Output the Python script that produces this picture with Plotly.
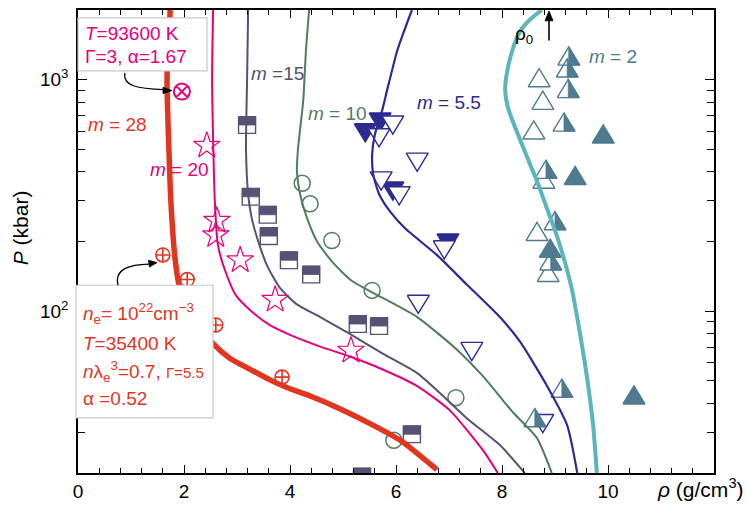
import math
import plotly.graph_objects as go

# ---------------- isentropes: density (g/cm^3) vs pressure (kbar) ----------------
rho_m28 = [1.74, 1.68, 1.72, 1.75, 1.83, 1.92, 2.15, 2.55, 2.87, 3.25, 3.62, 4.00, 4.38, 4.94, 5.51, 6.08, 6.77]
p_m28 = [2000, 1000, 466, 305, 170, 126, 96, 72.4, 62.5, 56.1, 50.5, 46.2, 43, 37.9, 32.7, 27.7, 20.7]

rho_m20 = [2.55, 2.53, 2.58, 2.64, 2.77, 2.98, 3.25, 3.62, 4.00, 4.57, 5.13, 5.75, 6.40, 7.02, 7.64, 7.92]
p_m20 = [2000, 1000, 305, 193, 151, 117, 101, 87, 79, 70.3, 63.7, 56, 47.5, 37.2, 25.1, 20]

rho_m15 = [3.21, 3.19, 3.17, 3.21, 3.28, 3.43, 3.57, 3.81, 4.13, 4.57, 5.13, 5.75, 6.40, 6.89, 7.34, 7.96, 8.43]
p_m15 = [2000, 1000, 499, 321, 251, 191, 157, 126, 107, 94.3, 79.8, 65.6, 54, 43, 34.4, 26.4, 20]

rho_m10 = [4.36, 4.30, 4.25, 4.15, 4.13, 4.19, 4.34, 4.51, 4.81, 5.17, 5.57, 6.40, 7.15, 7.64, 8.21, 8.66, 8.94]
p_m10 = [2000, 1327, 815, 499, 402, 321, 246, 200, 162, 135, 120, 94.3, 68.2, 52.4, 36.5, 28.3, 20]

rho_m55 = [6.30, 6.15, 6.02, 5.83, 5.74, 5.60, 5.55, 5.57, 5.68, 5.89, 6.17, 6.77, 7.34, 7.96, 8.34, 8.85, 9.23, 9.42]
p_m55 = [2000, 1617, 1327, 897, 738, 578, 475, 390, 321, 269, 228, 175, 130, 94.3, 73.8, 47.5, 32.1, 20]

rho_m2 = [8.75, 8.53, 8.34, 8.19, 8.09, 8.06, 8.11, 8.23, 8.38, 8.53, 8.66, 8.83, 9.02, 9.19, 9.32, 9.45, 9.60, 9.72, 9.79]
p_m2 = [2000, 1820, 1617, 1327, 1062, 897, 760, 637, 524, 430, 365, 285, 217, 162, 124, 85.5, 52.4, 32.1, 20]

# ---------------- experimental points ----------------
rho_cross = [1.60, 2.06, 2.60, 3.85]
p_cross = [175, 137, 87.2, 51.9]

rho_xmark = [1.96]
p_xmark = [889]

rho_star = [2.43, 2.62, 2.60, 3.06, 3.72, 5.15]
p_star = [519, 246, 213, 166, 112, 67.6]

rho_square = [3.19, 3.26, 3.58, 3.60, 3.98, 4.40, 5.28, 5.68, 6.30, 5.36]
p_square = [637, 312, 261, 211, 166, 144, 88, 86.3, 29.4, 19.3]

rho_circle = [4.23, 4.38, 4.79, 5.55, 7.13, 5.96]
p_circle = [357, 291, 202, 123, 42.3, 27.7]

rho_tri_dn_full = [5.70, 5.42, 5.94, 6.98]
p_tri_dn_full = [656, 589, 330, 197]

rho_tri_dn_open = [5.94, 5.68, 6.40, 5.72, 6.06, 6.91, 6.42, 7.43, 8.77]
p_tri_dn_open = [637, 561, 440, 365, 315, 184, 107, 67, 32.7]

rho_tri_up_half = [9.26, 9.23, 9.25, 9.17, 8.83, 9.00, 8.92, 9.13, 8.62]
p_tri_up_half = [1265, 1124, 916, 656, 410, 246, 165, 46.5, 34.7]

rho_tri_up_open = [8.70, 8.77, 8.60, 8.79, 8.66, 8.87]
p_tri_up_open = [1020, 815, 607, 372, 221, 147]

rho_tri_up_full = [9.91, 9.38, 8.91, 10.49]
p_tri_up_full = [583, 386, 187, 43.5]

x_tickvals = [0, 2, 4, 6, 8, 10]
x_ticktext = ["0", "2", "4", "6", "8", "10"]
y_tickvals = [100, 1000]
y_ticktext = ["10<sup>2</sup>", "10<sup>3</sup>"]
y_minor = [30, 40, 50, 60, 70, 80, 90, 200, 300, 400, 500, 600, 700, 800, 900]

# ---------------- geometry ----------------
W, H = 747, 510
ML, MR, MT, MB = 78, 33, 8, 31
PW, PH = W - ML - MR, H - MT - MB
RHO_RANGE = (0.0, 12.0)
P_RANGE = (20.0, 2000.0)
PX_PER_RHO = PW / (RHO_RANGE[1] - RHO_RANGE[0])
PX_PER_DEC = PH / (math.log10(P_RANGE[1]) - math.log10(P_RANGE[0]))

RED = "#e2351f"
MAGENTA = "#e4007c"
SLATE = "#585075"
GREEN = "#4e7e5c"
BLUE = "#2d2a91"
TEAL = "#5ab5bd"
STEEL = "#4f7b90"
FONT = "Liberation Sans, Arial, sans-serif"

# glyph outlines in screen pixels (dy downward) around each point
TW, TH = 11.0, 18.5
TRI_UP = [(-TW, TH / 2), (TW, TH / 2), (0, -TH / 2)]
TRI_UP_RIGHT = [(0, -TH / 2), (0, TH / 2), (TW, TH / 2)]
TRI_DN = [(-TW, -TH / 2), (TW, -TH / 2), (0, TH / 2)]
SQ = 8.5
SQUARE = [(-SQ, -SQ), (SQ, -SQ), (SQ, SQ), (-SQ, SQ)]
SQUARE_TOP = [(-SQ, -SQ), (SQ, -SQ), (SQ, 0), (-SQ, 0)]


def glyphs(xs, ys, outline):
    gx, gy = [], []
    for x0, y0 in zip(xs, ys):
        for dx, dy in list(outline) + [outline[0]]:
            gx.append(x0 + dx / PX_PER_RHO)
            gy.append(y0 * 10 ** (-dy / PX_PER_DEC))
        gx.append(None)
        gy.append(None)
    return gx, gy


def glyph_trace(xs, ys, outline, color, fill=None, width=1.4):
    gx, gy = glyphs(xs, ys, outline)
    return go.Scatter(
        x=gx, y=gy, mode="lines",
        line=dict(color=color, width=width),
        fill="toself" if fill else "none", fillcolor=fill,
        hoverinfo="skip", showlegend=False,
    )


def marker_trace(xs, ys, symbol, color, size, width):
    return go.Scatter(
        x=xs, y=ys, mode="markers",
        marker=dict(symbol=symbol, size=size, color=color,
                    line=dict(color=color, width=width)),
        hoverinfo="skip", showlegend=False,
    )


def curve_trace(xs, ys, color, width):
    return go.Scatter(
        x=xs, y=ys, mode="lines",
        line=dict(color=color, width=width, shape="spline", smoothing=0.6),
        hoverinfo="skip", showlegend=False,
    )


fig = go.Figure()

# squares: open lower half, filled upper half
fig.add_trace(glyph_trace(rho_square, p_square, SQUARE, SLATE, fill="white"))
fig.add_trace(glyph_trace(rho_square, p_square, SQUARE_TOP, SLATE, fill=SLATE, width=0.8))

fig.add_trace(marker_trace(rho_circle, p_circle, "circle-open", GREEN, 16, 1.5))
fig.add_trace(marker_trace(rho_star, p_star, "star-open", MAGENTA, 20, 1.2))
fig.add_trace(marker_trace(rho_cross, p_cross, "circle-cross-open", RED, 14, 1.6))
fig.add_trace(marker_trace(rho_xmark, p_xmark, "circle-x-open", MAGENTA, 16, 2.0))

# down triangles
fig.add_trace(glyph_trace(rho_tri_dn_full, p_tri_dn_full, TRI_DN, BLUE, fill=BLUE))
fig.add_trace(glyph_trace(rho_tri_dn_open, p_tri_dn_open, TRI_DN, BLUE, fill="white"))

# up triangles
fig.add_trace(glyph_trace(rho_tri_up_open, p_tri_up_open, TRI_UP, STEEL, fill="white"))
fig.add_trace(glyph_trace(rho_tri_up_half, p_tri_up_half, TRI_UP, STEEL, fill="white"))
fig.add_trace(glyph_trace(rho_tri_up_half, p_tri_up_half, TRI_UP_RIGHT, STEEL, fill=STEEL, width=0.8))
fig.add_trace(glyph_trace(rho_tri_up_full, p_tri_up_full, TRI_UP, STEEL, fill=STEEL))

# isentropes on top
fig.add_trace(curve_trace(rho_m20, p_m20, MAGENTA, 2.0))
fig.add_trace(curve_trace(rho_m15, p_m15, SLATE, 2.0))
fig.add_trace(curve_trace(rho_m10, p_m10, GREEN, 2.0))
fig.add_trace(curve_trace(rho_m55, p_m55, BLUE, 2.2))
fig.add_trace(curve_trace(rho_m2, p_m2, TEAL, 4.0))
fig.add_trace(curve_trace(rho_m28, p_m28, RED, 5.5))


def pxx(x):
    return (x - ML) / PW


def pxy(y):
    return (H - MB - y) / PH


annotations = []


def label(text, x, y, color, size=19, xanchor="left", yanchor="middle", **kw):
    annotations.append(dict(
        text=text, x=pxx(x), y=pxy(y), xref="paper", yref="paper",
        xanchor=xanchor, yanchor=yanchor, showarrow=False,
        font=dict(family=FONT, size=size, color=color), **kw))


label("<i>m</i> = 28", 86, 124, RED)
label("<i>m</i> = 20", 148, 170, MAGENTA)
label("<i>m</i> =15", 249, 73, SLATE)
label("<i>m</i> = 10", 306, 113, GREEN)
label("<i>m</i> = 5.5", 415, 102, BLUE)
label("<i>m</i> = 2", 587, 55, STEEL)

# upper info box
label("<i>T</i>=93600 K", 83, 32, MAGENTA)
label("Γ=3, α=1.67", 83, 55, MAGENTA)

# lower info box
label("<i>n</i><sub>e</sub>= 10<sup>22</sup>cm<sup>−3</sup>", 81, 317, RED)
label("<i>T</i>=35400 K", 81, 347, RED)
label("<i>n</i>λ<sub>e</sub><sup>3</sup>=0.7, <span style='font-size:15px'>Γ=5.5</span>", 81, 376, RED)
label("α =0.52", 81, 403, RED)

# density marker
label("ρ<sub>0</sub>", 513, 33, "black")

# axis titles
label("<i>ρ</i> (g/cm<sup>3</sup>)", 746, 494, "black", size=21, xanchor="right")
annotations.append(dict(
    text="<i>P</i> (kbar)", x=pxx(20), y=pxy(230), xref="paper", yref="paper",
    xanchor="center", yanchor="middle", showarrow=False, textangle=-90,
    font=dict(family=FONT, size=21, color="black")))


def pcurve(points):
    (x0, y0), rest = points[0], points[1:]
    s = f"M {pxx(x0):.4f},{pxy(y0):.4f} C"
    s += " ".join(f" {pxx(x):.4f},{pxy(y):.4f}" for x, y in rest)
    return s


def ppoly(points):
    s = " ".join(("M" if i == 0 else "L") + f" {pxx(x):.4f},{pxy(y):.4f}" for i, (x, y) in enumerate(points))
    return s + " Z"


def head(tip, b1, b2):
    return dict(type="path", xref="paper", yref="paper", path=ppoly([tip, b1, b2]),
                fillcolor="black", line=dict(color="black", width=0.8), layer="above")


shapes = [
    dict(type="rect", xref="paper", yref="paper", x0=pxx(78), x1=pxx(207), y0=pxy(70), y1=pxy(16),
         fillcolor="white", line=dict(color="#c8c8c8", width=1.2), layer="above"),
    dict(type="rect", xref="paper", yref="paper", x0=pxx(76), x1=pxx(213), y0=pxy(423), y1=pxy(288),
         fillcolor="white", line=dict(color="#c8c8c8", width=1.2), layer="above"),
    # curved pointers from the boxes
    dict(type="path", xref="paper", yref="paper",
         path=pcurve([(125, 72), (122, 85), (138, 88), (164, 89)]),
         line=dict(color="black", width=1.2), layer="above"),
    head((172, 90), (163, 86.5), (163, 93)),
    dict(type="path", xref="paper", yref="paper",
         path=pcurve([(118, 288), (114, 271), (130, 267), (149, 266.5)]),
         line=dict(color="black", width=1.2), layer="above"),
    head((157, 265), (148.5, 262.5), (149.5, 269.5)),
    # arrow marking the initial density
    dict(type="line", xref="paper", yref="paper", x0=pxx(549), x1=pxx(549), y0=pxy(39), y1=pxy(17),
         line=dict(color="black", width=1.6), layer="above"),
    head((549, 9), (545, 19), (553, 19)),
]

axis_common = dict(
    showline=True, linecolor="black", linewidth=1.5, mirror="allticks",
    ticks="inside", tickcolor="black", tickwidth=1.3, showgrid=False, zeroline=False,
    tickfont=dict(family=FONT, size=19, color="black"),
)

fig.update_layout(
    width=W, height=H,
    margin=dict(l=ML, r=MR, t=MT, b=MB, pad=0),
    paper_bgcolor="white", plot_bgcolor="white",
    showlegend=False,
    font=dict(family=FONT, size=19, color="black"),
    xaxis=dict(
        range=list(RHO_RANGE), tickmode="array", tickvals=x_tickvals, ticktext=x_ticktext,
        ticklen=8,
        minor=dict(ticks="inside", ticklen=5, tickcolor="black", tickwidth=1.2,
                   tick0=0, dtick=0.4, showgrid=False),
        **axis_common,
    ),
    yaxis=dict(
        type="log", range=[math.log10(P_RANGE[0]), math.log10(P_RANGE[1])],
        tickmode="array", tickvals=y_tickvals, ticktext=y_ticktext,
        ticklen=9, ticklabelstandoff=4,
        minor=dict(ticks="inside", ticklen=7, tickcolor="black", tickwidth=1.2,
                   tickvals=y_minor, showgrid=False),
        **axis_common,
    ),
    annotations=annotations,
    shapes=shapes,
)

fig.write_html("out.html")
